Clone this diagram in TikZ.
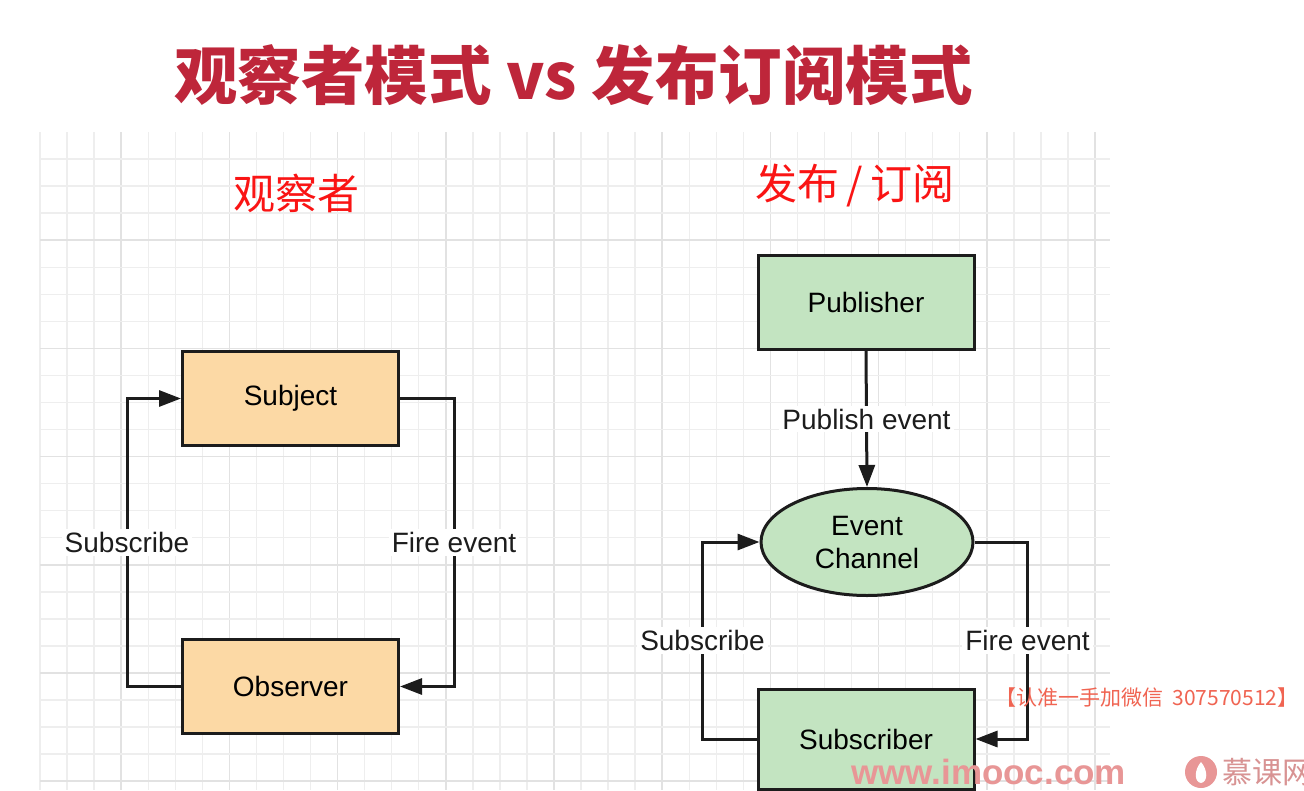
\documentclass[tikz,border=0pt]{standalone}
\usepackage{fontspec}
\setmainfont{Liberation Sans}
\newfontfamily\cjk{Noto Sans CJK SC}
\usetikzlibrary{shapes.geometric,arrows.meta}
\definecolor{titlered}{RGB}{190,38,58}
\definecolor{subred}{RGB}{250,20,20}
\definecolor{orangefill}{RGB}{252,217,165}
\definecolor{greenfill}{RGB}{195,228,193}
\definecolor{linec}{RGB}{28,28,28}
\definecolor{gridminor}{RGB}{238,238,238}
\definecolor{gridmajor}{RGB}{226,226,226}
\definecolor{wmred}{RGB}{240,100,82}
\definecolor{wmpink}{RGB}{232,150,150}
\begin{document}
\begin{tikzpicture}[x=1pt,y=-1pt,
  box/.style={draw=linec,line width=3pt,minimum width=216pt,minimum height=94pt,inner sep=0pt,
    font=\fontsize{28}{33}\selectfont},
  obox/.style={box,fill=orangefill},
  gbox/.style={box,fill=greenfill},
  conn/.style={draw=linec,line width=3pt,-{Triangle[length=22pt,width=16pt]}},
  lbl/.style={fill=white,inner sep=3pt,font=\fontsize{28}{33}\selectfont,text=linec}]
\useasboundingbox (0,0) rectangle (1304,790);
\clip (0,0) rectangle (1304,790);
\fill[white] (0,0) rectangle (1304,790);
% grid
\foreach \k in {0,...,39}{
  \pgfmathtruncatemacro{\m}{mod(\k,4)}
  \ifnum\m=3
    \draw[gridmajor,line width=1.6pt] ({40+27.05*\k},132) -- ({40+27.05*\k},790);
  \else
    \draw[gridminor,line width=1.4pt] ({40+27.05*\k},132) -- ({40+27.05*\k},790);
  \fi
}
\foreach \k in {1,...,24}{
  \pgfmathtruncatemacro{\m}{mod(\k,4)}
  \ifnum\m=0
    \draw[gridmajor,line width=1.6pt] (40,{132+27.05*\k}) -- (1110,{132+27.05*\k});
  \else
    \draw[gridminor,line width=1.4pt] (40,{132+27.05*\k}) -- (1110,{132+27.05*\k});
  \fi
}
% titles
\node[anchor=west,inner sep=0pt,text=titlered,font=\cjk\bfseries\fontsize{63.5}{70}\selectfont] (title) at (174,75) {观察者模式 vs 发布订阅模式};
\node[inner sep=0pt,text=subred,font=\cjk\fontsize{42}{48}\selectfont] (tobs) at (296,193) {观察者};
\node[inner sep=0pt,text=subred,font=\cjk\fontsize{42}{48}\selectfont] (tpub) at (855,186) {发布\,/\,订阅};
% observer diagram
\node[obox] (subj) at (290.5,398.5) {Subject};
\node[obox] (obs) at (290.5,686.5) {Observer};
\draw[conn] (obs.west) -- ++(-54,0) |- node[lbl,pos=0.25] {Subscribe} (subj.west);
\draw[conn] (subj.east) -- ++(54,0) |- node[lbl,pos=0.25] {Fire event} (obs.east);
% pub/sub diagram
\node[gbox] (pub) at (866,302.5) {Publisher};
\node[draw=linec,line width=3pt,fill=greenfill,ellipse,minimum width=212pt,minimum height=107pt,inner sep=0pt,
  align=center,font=\fontsize{28}{33}\selectfont] (ec) at (867,542) {Event\\Channel};
\node[gbox,minimum height=100pt] (sub) at (866,739) {Subscriber};
\draw[conn] (pub.south) -- node[lbl] {Publish event} (ec.north);
\draw[conn] (sub.west) -- ++(-54,0) |- node[lbl,pos=0.25] {Subscribe} (ec.west);
\draw[conn] (ec.east) -- ++(53,0) |- node[lbl,pos=0.25] {Fire event} (sub.east);
% watermarks
\node[anchor=west,inner sep=0pt,text=wmred,font=\cjk\fontsize{21}{24}\selectfont] (wm1) at (995,698) {【认准一手加微信\ \ 307570512】};
\node[anchor=west,inner sep=0pt,text=wmpink,font=\bfseries\fontsize{35}{40}\selectfont] (wm2) at (851,772) {www.imooc.com};
\node[circle,fill=wmpink,minimum size=32pt,inner sep=0pt] (logo) at (1201,772) {};
\fill[white] (1201,762) .. controls (1208,770) and (1208,782) .. (1201,783) .. controls (1194,782) and (1194,770) .. (1201,762);
\node[anchor=west,inner sep=0pt,text=wmpink!85!gray,font=\cjk\fontsize{30}{34}\selectfont] (wm3) at (1222,772) {慕课网};
\end{tikzpicture}
\end{document}
